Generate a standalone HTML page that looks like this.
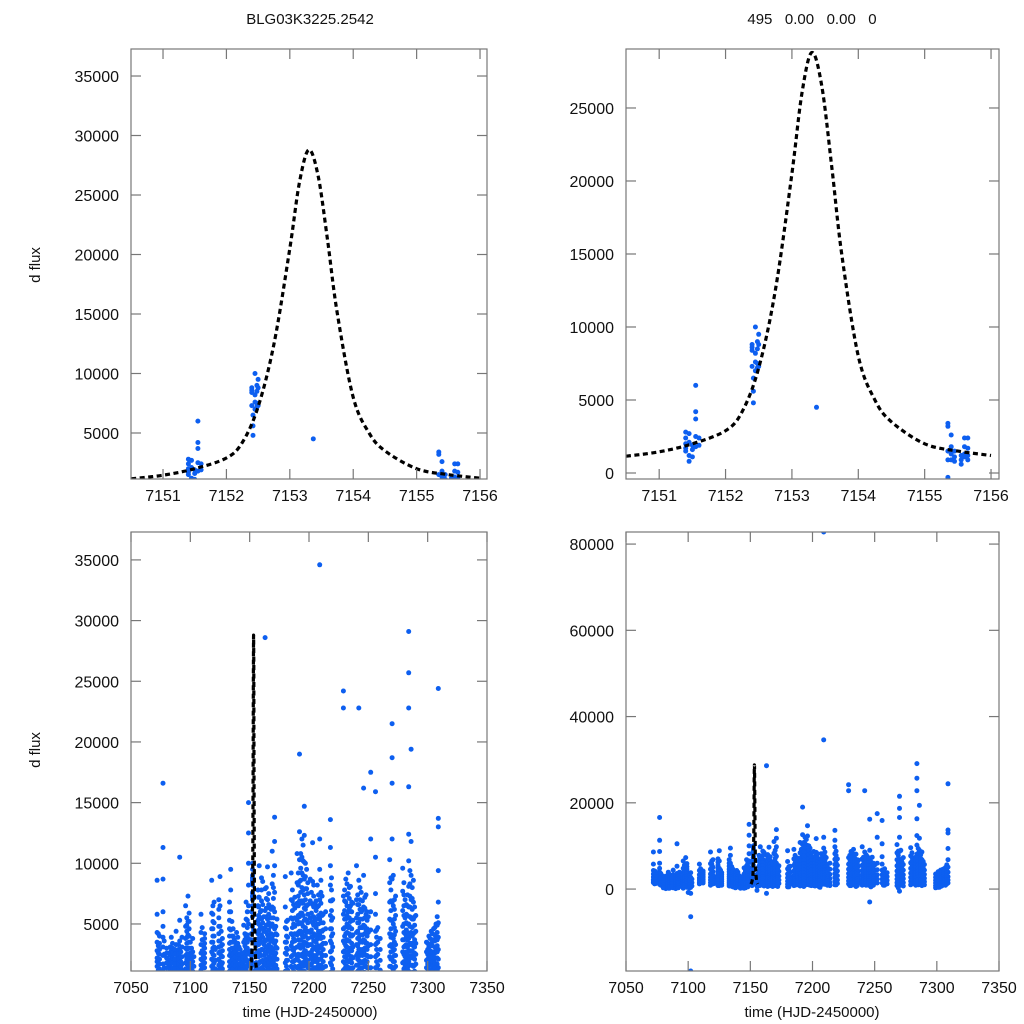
<!DOCTYPE html>
<html><head><meta charset="utf-8"><style>
html,body{margin:0;padding:0;background:#fff;overflow:hidden;width:1024px;height:1024px;}
svg{display:block;}
svg text{font-family:"Liberation Sans",Arial,sans-serif;fill:#111;}
</style></head><body>
<svg id="chart" width="1024" height="1024" viewBox="0 0 1024 1024" xmlns="http://www.w3.org/2000/svg">
<rect width="1024" height="1024" fill="#fff"/>
<text x="310" y="24" font-size="15" text-anchor="middle">BLG03K3225.2542</text>
<text x="812" y="24" font-size="15" text-anchor="middle" xml:space="preserve">495   0.00   0.00   0</text>
<text transform="translate(40,265) rotate(-90)" font-size="15" text-anchor="middle">d flux</text>
<text transform="translate(40,750) rotate(-90)" font-size="15" text-anchor="middle">d flux</text>
<text x="310" y="1017" font-size="15" text-anchor="middle">time (HJD-2450000)</text>
<text x="812" y="1017" font-size="15" text-anchor="middle">time (HJD-2450000)</text>
</svg>
<script>
// model curve samples
const modelTimes=[7150.5,7151,7151.5,7152,7152.25,7152.5,7152.75,7153,7153.15,7153.3,7153.45,7153.6,7153.75,7154,7154.25,7154.5,7155,7155.5,7156];
const modelFlux=[1150,1450,2000,2900,4200,7200,12500,20500,26000,28800,26500,21000,15000,8000,5000,3500,2000,1500,1200];
// event-night observations
const eventTimes=[7151.40,7151.45,7151.50,7151.55,7151.60,7152.40,7152.42,7152.45,7152.48,7152.50,7153.37,7155.35,7155.40,7155.45,7155.55,7155.60,7155.65];
const eventFlux=[[2800,2400,2000,1700,1500],[2700,2100,1200,800],[1900,1600,1100],[6000,4200,3700,2500,1800],[2400,1900],
[8800,8600,8400,7300],[4800,5600,6500],[10000,8200,7600,7000],[9000,8500,7500,7200],[9500,8800,7300],[4500],
[3400,3200,1500,900,-300],[2600,1800,1300,900],[1500,1100,800],[1200,900,600],[2400,1800,1300,1100],[2400,1700,1200,900]];
// season observations (per night)
const nightTimes=[7072,7073,7077,7078,7082,7083,7084,7086,7088,7089,7091,7093,7096,7098,7100,7102,7103,7109,7110,7111,7118,7120,7121,7125,7126,7134,7135,7137,7139,7141,7143,7145,7147,7149,7157,7158,7159,7161,7162,7163,7165,7167,7169,7171,7173,7180,7182,7185,7187,7190,7192,7194,7195,7196,7198,7201,7203,7205,7207,7209,7211,7214,7218,7220,7229,7231,7233,7235,7237,7240,7242,7244,7246,7248,7250,7252,7256,7258,7260,7268,7270,7271,7273,7279,7281,7284,7286,7288,7290,7299,7301,7303,7305,7307,7309];
const nightFlux=[
[4300,3500,2800,2200,1900,1500,5800,8600],[3200,2600,1800,1200,4200],
[16600,11300,8700,6000,4800,3900,3100,2400,1700,1100],[3600,2500,1400,900],
[2600,2000,1500,900,400,100],[3100,2400,1700,1200,600],[3900,2800,2100,1300,700,200],[2500,1800,1100,500],
[4400,3300,2700,2000,1400,800,300],[2200,1500,900],[10500,5300,3600,2900,2100,1600,1000],[3900,3100,2300,1700,1200,600],
[6500,4800,3800,3000,2400,1800,1300,700,200],[7300,5200,4100,3000,2200,1500,900],[3500,2600,1900,1300,800,-800],
[3800,2700,1900,1100,400,-1000,-6400,-19000],[2300,1500,700],[5800,4300,3300,2600,2100,1600,1200],[4700,3700,2800,2000,1400],
[3200,2300,1700],[8600,5900,4600,3500,2700,2100,1500,900],[6800,5100,4000,3100,2400,1800,1200],[2900,2000,1300],
[8900,6500,4800,3600,2700,1900,1300,800],[4400,3200,2400,1600,1000],[9500,7800,6000,4500,3500,2600,1800,1200,700],
[5200,4000,3000,2200,1500],[3700,2800,2000,1300,800],[4300,3300,2400,1700,1100,600],[3100,2300,1600,1000,500],
[2500,1800,1200,700,300],[4900,3500,2400,1500,800,200],[6800,5400,4000,3000,2100,1300,600],
[15000,12500,10000,8200,6500,5000,3800,2700,1700,900],[7800,6500,5300,4200,3300,2500,1700,1000],
[9800,7200,5600,4500,3500,2600,1800,1100],[6000,4800,3700,2800,1900,1200],[8500,6600,5100,3900,2900,2000,1300,700],
[5600,4400,3300,2400,1600,900],[28600,7900,6100,4700,3600,2700,1800,1100,-1000],[9700,7000,5400,4100,3000,2100,1400,800],
[6300,4900,3700,2800,1900,1200],[11000,8300,6400,5000,3800,2800,1900,1200],[13800,11800,9800,7600,6000,4600,3400,2400,1500,800],
[5400,4100,3000,2100,1300],[8900,6400,4700,3500,2600,1800,1100,500],[5300,3900,2900,2000,1200],
[9200,7000,5500,4200,3200,2300,1500,800],[6600,5000,3800,2800,1900,1100],[10800,8400,6700,5300,4100,3100,2200,1400,700],
[19000,12600,10300,8500,6900,5600,4400,3300,2400,1500],[12000,10500,9200,8000,6900,5900,5000,4100,3300,2500,1700,900],
[11500,10200,9000,7800,6700,5700,4800,3900,3100,2300,1500],[14700,12300,10100,8700,7400,6300,5300,4400,3500,2700,1900,1100],
[9500,7900,6500,5300,4300,3400,2500,1700,900],[8700,6900,5500,4300,3300,2400,1600,800],[11700,8500,6600,5100,3900,2900,2000,1200],
[6700,5300,4100,3100,2200,1400,600],[8200,6400,5000,3800,2800,1900,1100],[82800,34600,12000,9500,7000,5400,4100,3000,2100,1300],
[7300,5700,4400,3300,2400,1500],[6000,4600,3400,2400,1500,800],[13600,11300,9800,8200,6900,5700,4600,3600,2700,1800,1000],
[7000,5500,4200,3100,2100,1300],[24200,22800,7300,5800,4600,3600,2700,1900,1200],[8700,6800,5400,4200,3200,2300,1500,800],
[9200,7500,6000,4700,3600,2700,1900,1100],[8100,6500,5200,4000,3000,2100,1300,600],[6700,5300,4100,3100,2200,1400],
[9800,7000,5500,4300,3300,2400,1600,900],[22800,8600,6600,5100,3900,2900,2000,1200],[7600,6000,4700,3600,2600,1800,1000],
[16200,9000,6400,4900,3700,2700,1800,1000,-3000],[7400,5800,4500,3400,2400,1500,800],[5600,4300,3200,2300,1400],
[17500,12000,6000,4500,3300,2300,1400],[15900,10500,7500,5800,4400,3300,2300,1400],[4700,3500,2500,1600,900],[3800,2900,2000,1200],
[10300,8400,6800,5400,4200,3200,2300,1500,800],[21500,18700,16600,12000,8700,6800,5300,4100,3100,2200,1400,-500],
[9000,6500,5000,3800,2800,1900,1100],[7300,5700,4400,3300,2400,1500,700],[9600,7700,6100,4800,3700,2700,1800,1000],
[7000,5500,4200,3200,2300,1500],[29100,25700,22800,16300,12400,10200,8100,6400,5000,3800,2800,1900,1100],
[19400,11800,9000,7000,5500,4300,3300,2400,1600],[8600,6800,5400,4200,3200,2300,1500,800],[5700,4400,3400,2500,1700,1000],
[3500,2700,2000,1400,800,300],[4000,3100,2300,1600,1000,400],[4400,3400,2600,1900,1200,600],[4600,3600,2700,2000,1300],
[5000,3900,3000,2200,1500,900],[24400,13700,13000,9400,6800,5100,3900,2900,2100,1400]];
// additional dense nights
const extraTimes=[7074,7080,7085,7087,7090,7092,7097,7099,7101,7112,7119,7124,7127,7133,7136,7138,7140,7142,7144,7146,7148,7157.5,7160,7164,7166,7168,7170,7172,7181,7186,7188,7191,7193,7197,7199,7202,7204,7206,7208,7210,7212,7219,7230,7232,7234,7236,7241,7243,7245,7247,7249,7257,7269,7272,7280,7282,7283,7285,7287,7289,7300,7302,7304,7306,7308];
const extraFlux=[
[4000,3400,2900,2500,2100,1700,1300],[3000,2600,2200,1800,1400,1000,600,300],[3400,3000,2600,2200,1800,1400,1000,600,200],
[2900,2500,2100,1700,1300,900,500],[3300,2900,2500,2100,1700,1300,900,500,100],[2700,2300,1900,1500,1100,700,300],
[5500,4900,4400,3900,3400,2900,2500,2100,1700,1300,900,500],[5900,5200,4600,4000,3500,3000,2500,2000,1600,1200,800,400],
[3000,2600,2200,1800,1400,1000,600,200],[4200,3800,3400,3000,2600,2200,1800,1400],[6500,5800,5200,4600,4000,3500,3000,2500,2000,1600,1200],
[7000,6200,5500,4800,4200,3600,3100,2600,2100,1600,1200,800],[3800,3300,2800,2300,1800,1300,900],
[6800,6000,5300,4600,4000,3400,2900,2400,1900,1500,1100,700],[4600,4000,3500,3000,2500,2100,1700,1300,900,500],
[3500,3100,2700,2300,1900,1500,1100,700,300],[3900,3400,2900,2500,2100,1700,1300,900,500],[2900,2500,2100,1700,1300,900,500,200],
[2600,2200,1800,1500,1200,900,600,300],[4200,3700,3200,2700,2300,1900,1500,1100,700,300],[6000,5300,4700,4100,3500,3000,2500,2000,1500,1000,500],
[7200,6400,5700,5000,4400,3800,3300,2800,2300,1800,1300,800],[8800,7800,6900,6100,5400,4700,4100,3500,2900,2400,1900,1400,900],
[8000,7100,6300,5600,4900,4300,3700,3100,2600,2100,1600,1100,600],[7500,6600,5800,5100,4500,3900,3300,2800,2300,1800,1300,800],
[6200,5500,4800,4200,3600,3100,2600,2100,1600,1100,600],[9000,8000,7100,6300,5500,4800,4100,3500,2900,2300,1800,1300,800],
[4800,4200,3600,3100,2600,2100,1600,1100,600],[5200,4600,4000,3500,3000,2500,2000,1500,1000,500],
[7800,6900,6100,5400,4700,4100,3500,2900,2400,1900,1400,900],[7200,6300,5500,4800,4200,3600,3000,2500,2000,1500,1000],
[9200,8200,7300,6500,5700,5000,4300,3700,3100,2500,2000,1500,1000],[10800,9600,8600,7600,6700,5900,5100,4400,3700,3000,2400,1800,1200,600],
[10000,8900,7900,7000,6200,5400,4700,4000,3400,2800,2200,1600,1000],[8400,7500,6600,5800,5100,4400,3800,3200,2600,2000,1400,800],
[7600,6700,5900,5200,4500,3900,3300,2700,2200,1700,1200,700],[8200,7300,6400,5600,4900,4200,3600,3000,2400,1900,1400,900],
[6900,6100,5400,4700,4100,3500,2900,2400,1900,1400,900,400],[7400,6500,5700,5000,4400,3800,3200,2600,2100,1600,1100],
[8600,7600,6700,5900,5100,4400,3800,3200,2600,2100,1600,1100],[5800,5100,4500,3900,3400,2900,2400,1900,1400,900],
[8800,7800,6900,6100,5300,4600,4000,3400,2800,2200,1600,1000],[7800,6900,6100,5400,4700,4000,3400,2800,2300,1800,1300,800],
[8300,7400,6500,5700,5000,4300,3700,3100,2500,2000,1500,1000],[8000,7100,6300,5500,4800,4200,3600,3000,2400,1900,1400,900],
[6800,6000,5300,4600,4000,3400,2800,2300,1800,1300,800],[7400,6600,5800,5100,4400,3800,3200,2600,2100,1600,1100],
[8000,7000,6200,5400,4700,4100,3500,2900,2400,1900,1400,900],[6900,6100,5400,4700,4100,3500,2900,2400,1900,1400,900],
[7200,6300,5500,4800,4200,3600,3000,2500,2000,1500,1000,500],[6000,5300,4600,4000,3400,2900,2400,1900,1400,900],
[4500,3900,3400,2900,2400,1900,1400,900],[8800,7800,6900,6100,5300,4600,3900,3300,2700,2100,1500,900,300],
[7000,6200,5400,4700,4100,3500,2900,2400,1900,1400,900],[8400,7400,6500,5700,5000,4300,3700,3100,2500,1900,1300],
[6600,5800,5100,4500,3900,3300,2700,2200,1700,1200],[7400,6500,5700,5000,4300,3700,3100,2500,1900,1400,900],
[9400,8300,7300,6400,5600,4800,4100,3400,2800,2200,1600,1000],[8000,7100,6200,5400,4700,4000,3400,2800,2200,1600,1000],
[6400,5600,4900,4300,3700,3100,2600,2100,1600,1100],[3400,2900,2500,2100,1700,1300,900,500],[3800,3300,2800,2400,2000,1600,1200,800,400],
[4200,3700,3200,2700,2300,1900,1500,1100,700],[4700,4100,3600,3100,2600,2200,1800,1400,1000],[5600,4900,4300,3700,3200,2700,2200,1700,1200]];
// axis tick labels
const ticksTLx=[7151,7152,7153,7154,7155,7156];
const ticksTLy=[5000,10000,15000,20000,25000,30000,35000];
const ticksTRy=[0,5000,10000,15000,20000,25000];
const ticksBx=[7050,7100,7150,7200,7250,7300,7350];
const ticksBLy=[5000,10000,15000,20000,25000,30000,35000];
const ticksBRy=[0,20000,40000,60000,80000];

const NS='http://www.w3.org/2000/svg';
const svg=document.getElementById('chart');
function mk(tag,attrs,parent){const e=document.createElementNS(NS,tag);for(const k in attrs)e.setAttribute(k,attrs[k]);(parent||svg).appendChild(e);return e;}

const panels=[
 {id:'top-left',x0:131,x1:487,y0:49,y1:479,xmin:7150.495,xmax:7156.11,ymin:1134,ymax:37270,xt:ticksTLx,yt:ticksTLy},
 {id:'top-right',x0:626,x1:999,y0:49,y1:479,xmin:7150.50,xmax:7156.12,ymin:-411,ymax:29040,xt:ticksTLx,yt:ticksTRy},
 {id:'bottom-left',x0:131,x1:487,y0:532,y1:971,xmin:7050,xmax:7350,ymin:1125,ymax:37300,xt:ticksBx,yt:ticksBLy},
 {id:'bottom-right',x0:626,x1:999,y0:532,y1:971,xmin:7050,xmax:7350,ymin:-19000,ymax:82800,xt:ticksBx,yt:ticksBRy}
];
panels.forEach((p,i)=>{
 const sx=t=>p.x0+(t-p.xmin)/(p.xmax-p.xmin)*(p.x1-p.x0);
 const sy=v=>p.y1-(v-p.ymin)/(p.ymax-p.ymin)*(p.y1-p.y0);
 const g=mk('g',{});
 
 
 const cp=mk('clipPath',{id:'clip'+i},g);
 mk('rect',{x:p.x0,y:p.y0,width:p.x1-p.x0,height:p.y1-p.y0},cp);
 const pts=mk('g',{'clip-path':'url(#clip'+i+')',fill:'#0d5ff0'},g);
 
 
 const addPts=(times,fluxes)=>times.forEach((t,j)=>fluxes[j].forEach(f=>{
   const c=mk('circle',{cx:sx(t).toFixed(1),cy:sy(f).toFixed(1),r:2.5},pts);
   
   
 }));
 addPts(nightTimes,nightFlux);
 addPts(extraTimes,extraFlux);
 addPts(eventTimes,eventFlux);
 // model curve (Catmull-Rom spline)
 const P=modelTimes.map((t,j)=>[sx(t),sy(modelFlux[j])]);
 let d='M'+P[0][0].toFixed(1)+','+P[0][1].toFixed(1);
 for(let j=0;j<P.length-1;j++){
   const a=P[Math.max(0,j-1)],b=P[j],c=P[j+1],e=P[Math.min(P.length-1,j+2)];
   const c1=[b[0]+(c[0]-a[0])/6,b[1]+(c[1]-a[1])/6],c2=[c[0]-(e[0]-b[0])/6,c[1]-(e[1]-b[1])/6];
   d+=' C'+c1.map(v=>v.toFixed(1))+' '+c2.map(v=>v.toFixed(1))+' '+c[0].toFixed(1)+','+c[1].toFixed(1);
 }
 const m=mk('path',{d:d,fill:'none',stroke:'#000','stroke-width':3.2,'stroke-dasharray':'5 3.5','clip-path':'url(#clip'+i+')'},g);
 
 
 // frame
 const fr=mk('rect',{x:p.x0,y:p.y0,width:p.x1-p.x0,height:p.y1-p.y0,fill:'none',stroke:'#777','stroke-width':1.2},g);
 
 
 // ticks
 p.xt.forEach(t=>{
   const x=sx(t);
   mk('line',{x1:x,x2:x,y1:p.y0,y2:p.y0+10,stroke:'#777','stroke-width':1.2},g);
   mk('line',{x1:x,x2:x,y1:p.y1,y2:p.y1-10,stroke:'#777','stroke-width':1.2},g);
   const tx=mk('text',{x:x,y:p.y1+22,'font-size':16,'text-anchor':'middle'},g);
   tx.textContent=t;
   
   
 });
 p.yt.forEach(v=>{
   const y=sy(v);
   mk('line',{x1:p.x0,x2:p.x0+10,y1:y,y2:y,stroke:'#777','stroke-width':1.2},g);
   mk('line',{x1:p.x1,x2:p.x1-10,y1:y,y2:y,stroke:'#777','stroke-width':1.2},g);
   const ty=mk('text',{x:p.x0-12,y:y+6,'font-size':16,'text-anchor':'end'},g);
   ty.textContent=v;
   
   
 });
});
</script>
</body></html>
